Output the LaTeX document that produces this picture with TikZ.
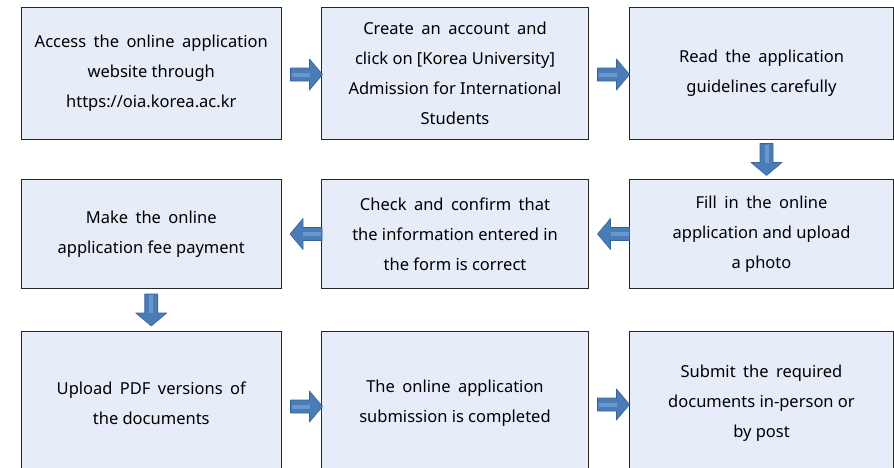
\documentclass[tikz,border=0pt]{standalone}
\usepackage{fontspec}
\setmainfont{Noto Sans}
\usetikzlibrary{calc}
\definecolor{boxfill}{RGB}{230,237,248}
\definecolor{boxline}{RGB}{38,38,38}
\definecolor{arrfill}{RGB}{74,124,184}
\definecolor{arrline}{RGB}{58,98,152}
\definecolor{arrlight}{RGB}{104,150,205}
\tikzset{
  stepbox/.style={draw=boxline, line width=1pt, fill=boxfill, anchor=north west,
    inner sep=0pt, align=center, font=\fontsize{16.5pt}{30pt}\selectfont},
  barrow/.pic={
    \path[fill=arrfill, draw=arrline, line width=0.6pt, line join=round]
      (-16,-6.5) -- (3,-6.5) -- (3,-15.5) -- (16,0) -- (3,15.5) -- (3,6.5) -- (-16,6.5) -- cycle;
    \path[fill=arrlight] (-15,-2) -- (3,-2) -- (3,2) -- (-15,2) -- cycle;
  }
}
\newcommand{\ws}{\spaceskip=0.45em plus 0.1em\relax}
\begin{document}
\begin{tikzpicture}[x=1pt,y=1pt]
\useasboundingbox (0,0) rectangle (894,-467);
\clip (0,0) rectangle (894,-467);
% row 1
\node[stepbox, minimum width=260.5pt, minimum height=132pt] (b1) at (20.5,-7)
  {\ws Access the online application\\website through\\https://oia.korea.ac.kr};
\node[stepbox, minimum width=267pt, minimum height=132pt] (b2) at (321,-7)
  {\ws Create an account and\\click on [Korea University]\\Admission for International\\Students};
\node[stepbox, minimum width=264pt, minimum height=132pt] (b3) at (629,-7)
  {\ws Read the application\\guidelines carefully};
% row 2
\node[stepbox, minimum width=260.5pt, minimum height=109pt] (b4) at (20.5,-179)
  {\ws Make the online\\application fee payment};
\node[stepbox, minimum width=267pt, minimum height=109pt] (b5) at (321,-179)
  {\ws Check and confirm that\\the information entered in\\the form is correct};
\node[stepbox, minimum width=264pt, minimum height=109pt] (b6) at (629,-179)
  {\ws Fill in the online\\application and upload\\a photo};
% row 3
\node[stepbox, minimum width=260.5pt, minimum height=144pt] (b7) at (20.5,-331)
  {\ws Upload PDF versions of\\the documents};
\node[stepbox, minimum width=267pt, minimum height=144pt] (b8) at (321,-331)
  {\ws The online application\\submission is completed};
\node[stepbox, minimum width=264pt, minimum height=144pt] (b9) at (629,-331)
  {\ws Submit the required\\documents in-person or\\by post};
% arrows
\coordinate (a12) at ($(b1.east)!0.5!(b2.west)+(5,-1)$);
\coordinate (a23) at ($(b2.east)!0.5!(b3.west)+(4.5,-1)$);
\coordinate (a36) at ($(b3.south)!0.5!(b6.north)+(5,0)$);
\coordinate (a65) at ($(b6.west)!0.5!(b5.east)+(4.5,0)$);
\coordinate (a54) at ($(b5.west)!0.5!(b4.east)+(4.5,0)$);
\coordinate (a47) at ($(b4.south)!0.5!(b7.north)+(0,0)$);
\coordinate (a78) at ($(b7.east)!0.5!(b8.west)+(5,-3)$);
\coordinate (a89) at ($(b8.east)!0.5!(b9.west)+(4.5,-1)$);
\pic at (a12) {barrow};
\pic at (a23) {barrow};
\pic[rotate=-90] at (a36) {barrow};
\pic[rotate=180] at (a65) {barrow};
\pic[rotate=180] at (a54) {barrow};
\pic[rotate=-90] at (a47) {barrow};
\pic at (a78) {barrow};
\pic at (a89) {barrow};
\end{tikzpicture}
\end{document}
